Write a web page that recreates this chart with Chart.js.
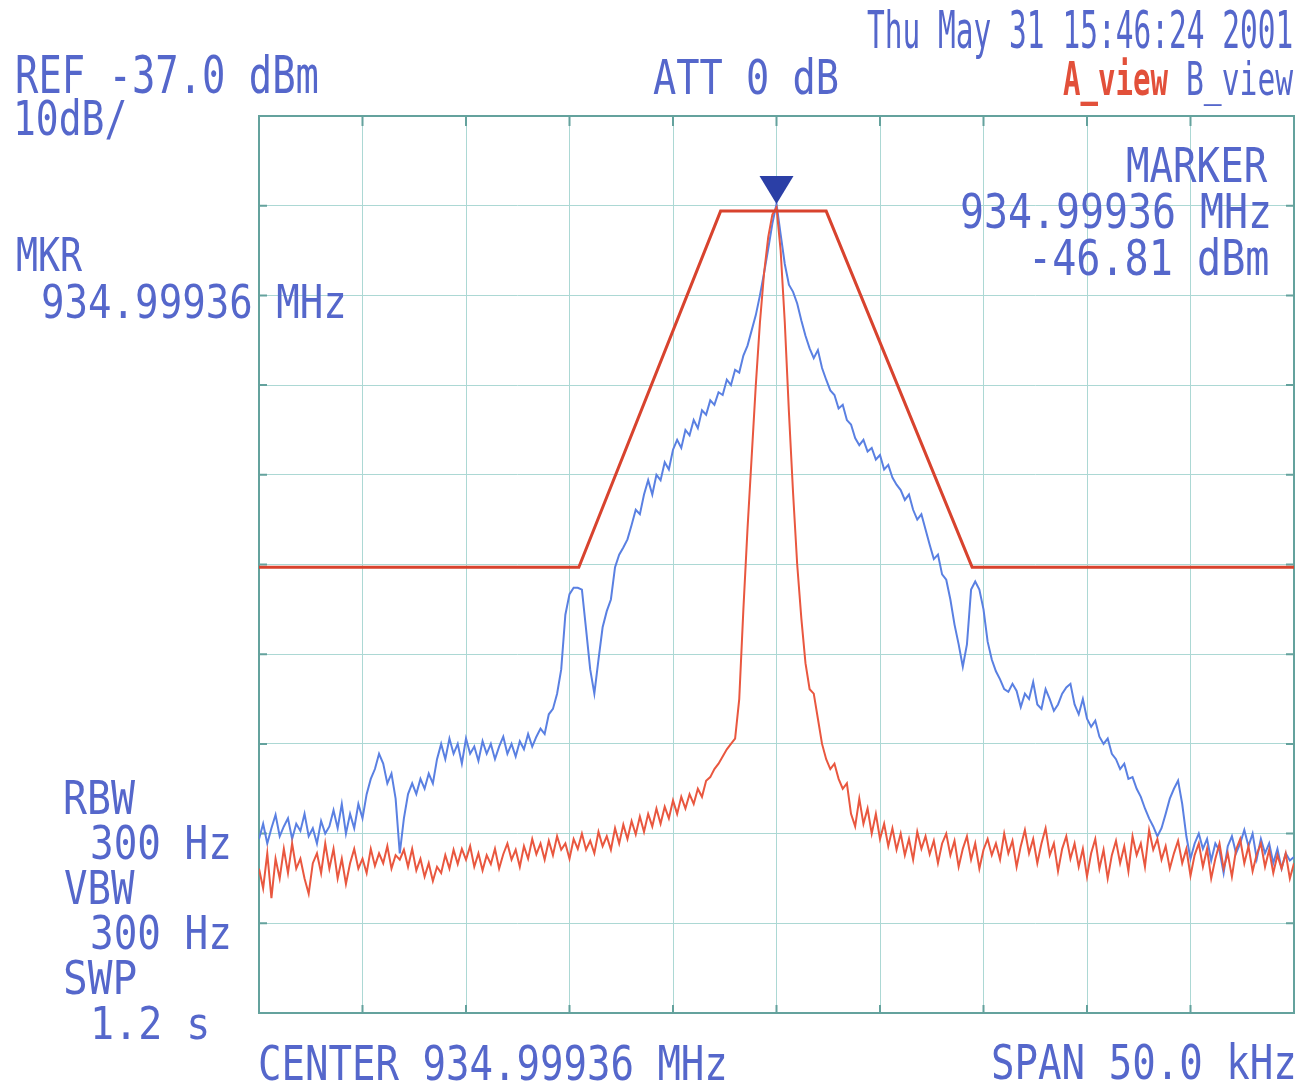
<!DOCTYPE html>
<html>
<head>
<meta charset="utf-8">
<script src="https://cdn.jsdelivr.net/npm/chart.js@4.4.0/dist/chart.umd.min.js"></script>
<style>
html, body { margin: 0; padding: 0; background: #fff; }
#wrap { position: relative; width: 1298px; height: 1088px; overflow: hidden; background: #fff; }
#spec { position: absolute; left: 0; top: 0; }
.lbl { position: absolute; white-space: pre; font-family: 'DejaVu Sans Mono', monospace; color: #5567cb; }
</style>
</head>
<body>
<div id="wrap"><canvas id="spec" width="1298" height="1088"></canvas></div>
<script>
// offset from centre frequency, kHz (span 50 kHz, 5 kHz/div)
const freqStart = -25;
const freqStep = 0.2;
const freqTicks = [-25, -20, -15, -10, -5, 0, 5, 10, 15, 20, 25];
// level, dBm (REF -37 dBm, 10 dB/div)
const levelTicks = [-137, -127, -117, -107, -97, -87, -77, -67, -57, -47, -37];

// A_view trace (red), dBm
const traceA = [
  -120.9,-123.1,-119.2,-124.2,-119.8,-122.0,-118.7,-121.4,-118.1,-120.9,-119.8,-122.0,-123.7,-120.3,-119.2,-121.4,-118.1,-120.9,-118.7,-122.0,-119.8,-122.6,-120.3,-118.7,-120.9,
  -119.8,-121.4,-118.7,-120.6,-119.2,-120.3,-118.4,-120.9,-119.4,-119.9,-118.8,-120.7,-118.7,-121.1,-119.8,-121.8,-120.3,-122.3,-120.7,-121.4,-119.4,-120.9,-118.8,-120.4,-118.7,
  -119.9,-118.4,-120.7,-119.2,-121.1,-119.4,-120.4,-118.7,-120.9,-119.3,-118.1,-119.9,-118.8,-120.7,-118.4,-119.8,-117.6,-119.3,-118.1,-119.9,-117.8,-119.4,-117.3,-118.8,-118.1,
  -119.8,-117.6,-118.7,-117.0,-118.8,-117.8,-119.2,-116.8,-118.4,-117.3,-118.8,-116.4,-118.1,-116.0,-117.6,-115.6,-117.1,-115.1,-116.8,-114.8,-116.2,-114.2,-115.9,-114.0,-115.3,
  -113.3,-114.8,-112.9,-114.2,-112.6,-113.7,-112.0,-112.9,-111.1,-110.7,-109.8,-109.2,-108.4,-107.6,-107.0,-106.4,-102.0,-92.0,-83.0,-75.0,-67.0,-60.0,-54.5,-50.5,-48.0,
  -47.2,-52.0,-60.0,-70.0,-79.0,-87.0,-93.0,-98.0,-100.9,-101.4,-104.2,-107.0,-108.7,-109.8,-109.2,-110.9,-112.0,-111.4,-114.8,-116.2,-113.1,-115.9,-114.2,-117.0,-114.8,
  -117.6,-115.9,-118.4,-116.4,-118.8,-117.0,-119.4,-117.6,-119.9,-116.8,-118.7,-117.3,-119.3,-117.8,-120.3,-118.1,-117.0,-119.4,-117.8,-120.7,-118.7,-117.3,-119.9,-118.1,-120.9,
  -118.8,-117.6,-119.4,-118.1,-119.9,-117.0,-119.2,-117.8,-120.7,-118.4,-116.6,-119.2,-117.6,-120.3,-118.1,-116.4,-119.4,-118.1,-121.2,-118.7,-117.3,-119.8,-118.1,-120.7,-118.7,
  -121.8,-119.2,-117.6,-120.9,-118.8,-122.0,-119.4,-117.8,-120.3,-118.4,-121.2,-117.3,-119.4,-118.1,-120.7,-116.6,-118.8,-117.6,-119.9,-118.4,-120.9,-119.2,-117.8,-120.3,-118.7,
  -121.7,-119.4,-118.1,-120.7,-118.7,-122.0,-119.8,-118.1,-120.9,-119.2,-121.8,-118.8,-117.6,-120.3,-118.4,-121.2,-119.3,-118.1,-120.7,-118.8,-121.4,-119.4,-120.9,-119.2,-122.0,
  -120.3
];

// B_view trace (blue), dBm
const traceB = [
  -117.6,-115.9,-118.1,-116.4,-114.9,-117.3,-116.2,-115.3,-117.6,-115.9,-116.7,-114.8,-117.3,-116.4,-118.1,-115.6,-117.0,-116.2,-114.4,-116.4,-113.7,-117.0,-114.8,-116.4,-113.7,
  -115.3,-112.6,-110.9,-109.8,-108.1,-109.2,-111.4,-110.3,-113.1,-119.2,-115.3,-112.6,-111.4,-112.6,-110.9,-112.0,-110.3,-111.4,-108.7,-107.0,-108.7,-106.4,-108.1,-107.0,-109.2,
  -106.4,-108.1,-107.3,-108.9,-106.7,-108.1,-107.0,-108.7,-107.3,-106.2,-108.1,-107.0,-108.4,-106.7,-107.6,-105.9,-107.3,-106.2,-105.3,-105.9,-103.7,-103.1,-101.4,-98.7,-92.6,
  -90.3,-89.6,-89.6,-89.8,-94.2,-98.7,-101.4,-97.6,-94.0,-92.2,-90.9,-87.3,-85.9,-85.1,-84.2,-82.6,-80.9,-81.4,-79.2,-77.6,-79.2,-77.0,-77.6,-75.6,-76.4,
  -74.2,-73.1,-74.0,-72.0,-72.6,-70.9,-71.8,-69.8,-70.3,-68.7,-69.2,-67.8,-68.1,-66.4,-67.0,-65.3,-65.6,-63.7,-62.6,-60.9,-59.2,-57.0,-54.5,-51.8,-49.0,
  -46.8,-50.2,-53.5,-55.8,-56.6,-57.9,-59.8,-61.5,-62.9,-64.0,-63.1,-65.1,-66.4,-67.6,-68.1,-69.6,-69.2,-70.9,-71.4,-72.9,-73.7,-73.1,-74.4,-74.0,-75.3,
  -74.8,-76.4,-75.9,-77.3,-78.1,-78.7,-79.8,-79.2,-80.9,-82.0,-81.4,-83.1,-84.8,-86.4,-85.9,-88.1,-88.7,-90.9,-93.7,-95.9,-98.4,-95.9,-89.8,-88.9,-89.8,
  -92.0,-95.6,-97.6,-98.9,-99.8,-100.9,-101.2,-100.3,-101.1,-102.9,-101.4,-102.0,-100.1,-102.6,-103.1,-100.9,-102.0,-103.3,-102.6,-101.4,-100.7,-100.3,-102.6,-103.7,-102.0,
  -104.2,-105.1,-104.4,-106.2,-107.0,-106.4,-108.1,-108.7,-109.8,-109.2,-110.9,-110.7,-112.0,-112.9,-114.2,-115.3,-116.2,-117.3,-116.4,-114.8,-113.1,-112.0,-111.1,-113.7,-117.3,
  -119.8,-118.1,-117.0,-118.7,-117.6,-120.0,-118.1,-118.9,-121.4,-118.4,-117.3,-119.2,-118.1,-116.6,-118.4,-117.0,-119.8,-117.6,-119.2,-118.1,-120.3,-118.7,-120.9,-119.2,-120.0,
  -119.6
];

// limit mask (trapezoid)
const maskFreq = [-25, -9.55, -2.7, 2.4, 9.45, 25];
const maskLevel = [-87.3, -87.3, -47.6, -47.6, -87.3, -87.3];

// marker
const markerFreq = 0;
const markerLevel = -46.81;

// header / footer texts (ink box: left, cap top, width, cap height)
const labels = [
  { text: 'REF -37.0 dBm', x: 17, y: 57, w: 300, h: 37 },
  { text: '10dB/', x: 18, y: 101, w: 107, h: 35 },
  { text: 'ATT 0 dB', x: 653, y: 60, w: 184, h: 35 },
  { text: 'Thu May 31 15:46:24 2001', x: 868, y: 12, w: 424, h: 37 },
  { text: 'A_view', x: 1063, y: 61, w: 105, h: 34, color: '#e2503a', bold: true },
  { text: 'B_view', x: 1188, y: 61, w: 105, h: 34 },
  { text: 'MARKER', x: 1128, y: 148, w: 140, h: 35 },
  { text: '934.99936 MHz', x: 962, y: 194, w: 306, h: 35 },
  { text: '-46.81 dBm', x: 1035, y: 240, w: 233, h: 36 },
  { text: 'MKR', x: 17, y: 237, w: 65, h: 34 },
  { text: '934.99936 MHz', x: 43, y: 284, w: 300, h: 34 },
  { text: 'RBW', x: 65, y: 780, w: 70, h: 34 },
  { text: '300 Hz', x: 92, y: 825, w: 136, h: 34 },
  { text: 'VBW', x: 65, y: 870, w: 70, h: 34 },
  { text: '300 Hz', x: 92, y: 915, w: 136, h: 34 },
  { text: 'SWP', x: 65, y: 960, w: 70, h: 34 },
  { text: '1.2 s', x: 95, y: 1006, w: 112, h: 33 },
  { text: 'CENTER 934.99936 MHz', x: 260, y: 1046, w: 464, h: 35 },
  { text: 'SPAN 50.0 kHz', x: 993, y: 1045, w: 300, h: 35 }
];

const gridColor = '#acd8d4';
const frameColor = '#64a29d';

// squeeze each label into its box so the narrow analyser font is imitated
const probe = document.createElement('canvas').getContext('2d');
function placeLabel(l) {
  const font = (l.bold ? 'bold ' : '') + '100px "DejaVu Sans Mono"';
  probe.font = font;
  const m = probe.measureText(l.text);
  const cap = probe.measureText('H').actualBoundingBoxAscent / 100;
  const asc = m.fontBoundingBoxAscent / 100;
  const desc = m.fontBoundingBoxDescent / 100;
  const fs = l.h / cap;
  const inkW = (m.actualBoundingBoxLeft + m.actualBoundingBoxRight) / 100 * fs;
  const inkLeft = -m.actualBoundingBoxLeft / 100 * fs;
  const sx = l.w / inkW;
  const baseFromTop = (fs - (asc + desc) * fs) / 2 + asc * fs;

  const el = document.createElement('div');
  el.className = 'lbl';
  el.textContent = l.text;
  el.style.fontSize = fs + 'px';
  el.style.lineHeight = fs + 'px';
  if (l.bold) el.style.fontWeight = 'bold';
  if (l.color) el.style.color = l.color;
  el.style.left = (l.x - inkLeft * sx) + 'px';
  el.style.top = (l.y + l.h - baseFromTop) + 'px';
  el.style.transformOrigin = '0 0';
  el.style.transform = 'scaleX(' + sx + ')';
  document.getElementById('wrap').appendChild(el);
}
labels.forEach(placeLabel);

const toPoints = arr => arr.map((v, i) => ({ x: freqStart + i * freqStep, y: v }));
const maskPoints = maskFreq.map((f, i) => ({ x: f, y: maskLevel[i] }));

// frame with short inward tick marks, like the analyser graticule
const framePlugin = {
  id: 'frame',
  beforeDatasetsDraw(chart) {
    const { ctx, chartArea: a, scales } = chart;
    ctx.save();
    ctx.strokeStyle = frameColor;
    ctx.lineWidth = 2;
    ctx.strokeRect(a.left, a.top, a.right - a.left, a.bottom - a.top);
    ctx.beginPath();
    freqTicks.forEach(f => {
      const x = scales.x.getPixelForValue(f);
      ctx.moveTo(x, a.top); ctx.lineTo(x, a.top + 10);
      ctx.moveTo(x, a.bottom); ctx.lineTo(x, a.bottom - 8);
    });
    levelTicks.forEach(v => {
      const y = scales.y.getPixelForValue(v);
      ctx.moveTo(a.left, y); ctx.lineTo(a.left + 8, y);
      ctx.moveTo(a.right, y); ctx.lineTo(a.right - 8, y);
    });
    ctx.stroke();
    ctx.restore();
  }
};

// marker triangle sitting on the peak
const markerPlugin = {
  id: 'marker',
  afterDatasetsDraw(chart) {
    const { ctx, scales } = chart;
    const px = scales.x.getPixelForValue(markerFreq);
    const py = scales.y.getPixelForValue(markerLevel);
    ctx.save();
    ctx.fillStyle = '#2b3fa6';
    ctx.beginPath();
    ctx.moveTo(px - 17, py - 28);
    ctx.lineTo(px + 17, py - 28);
    ctx.lineTo(px, py);
    ctx.closePath();
    ctx.fill();
    ctx.restore();
  }
};

const ctx = document.getElementById('spec').getContext('2d');
new Chart(ctx, {
  type: 'line',
  data: {
    datasets: [
      { label: 'Mask', data: maskPoints, borderColor: '#d8432e', borderWidth: 3, pointRadius: 0, tension: 0 },
      { label: 'A_view', data: toPoints(traceA), borderColor: '#e9573f', borderWidth: 2, pointRadius: 0, tension: 0 },
      { label: 'B_view', data: toPoints(traceB), borderColor: '#5a80e2', borderWidth: 2, pointRadius: 0, tension: 0 }
    ]
  },
  options: {
    responsive: false,
    animation: false,
    devicePixelRatio: 1,
    layout: { padding: { left: 259, top: 116, right: 4, bottom: 75 } },
    scales: {
      x: {
        type: 'linear',
        min: -25,
        max: 25,
        afterBuildTicks: axis => { axis.ticks = freqTicks.map(v => ({ value: v })); },
        ticks: { display: false },
        grid: { color: gridColor, lineWidth: 1, drawTicks: false },
        border: { display: false }
      },
      y: {
        type: 'linear',
        min: -137,
        max: -37,
        afterBuildTicks: axis => { axis.ticks = levelTicks.map(v => ({ value: v })); },
        ticks: { display: false },
        grid: { color: gridColor, lineWidth: 1, drawTicks: false },
        border: { display: false }
      }
    },
    plugins: {
      legend: { display: false },
      tooltip: { enabled: false }
    }
  },
  plugins: [framePlugin, markerPlugin]
});
</script>
</body>
</html>
